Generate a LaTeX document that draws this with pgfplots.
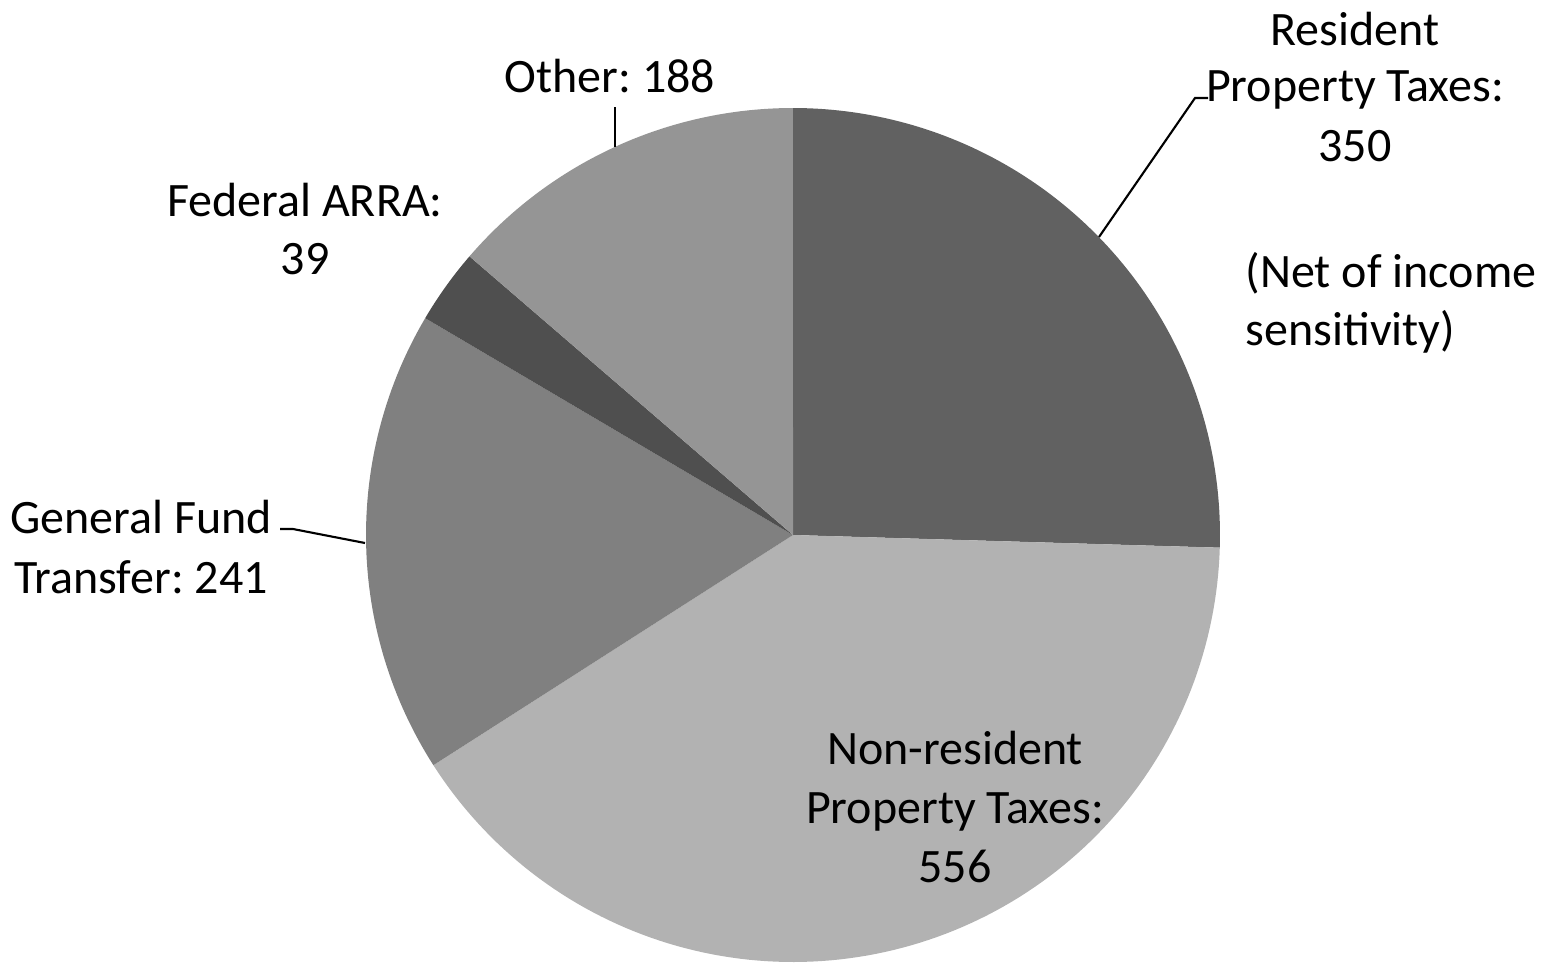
\documentclass[border=0pt]{standalone}
\usepackage{fontspec}
\setmainfont{Carlito}
\usepackage{pgfplots}
\pgfplotsset{compat=1.18}
\frenchspacing

\definecolor{cRes}{HTML}{616161}
\definecolor{cNon}{HTML}{B2B2B2}
\definecolor{cGen}{HTML}{808080}
\definecolor{cFed}{HTML}{4F4F4F}
\definecolor{cOth}{HTML}{959595}

% slice values, clockwise from 12 o'clock
\def\vRes{350}
\def\vNon{556}
\def\vGen{241}
\def\vFed{39}
\def\vOth{188}

\tikzset{lbl/.style={font=\fontsize{13.66pt}{16.8pt}\selectfont, inner sep=0pt}}

\begin{document}
\begin{tikzpicture}
\pgfmathsetmacro\tot{\vRes+\vNon+\vGen+\vFed+\vOth}
\pgfmathsetmacro\aA{90}
\pgfmathsetmacro\aB{\aA-\vRes/\tot*360}
\pgfmathsetmacro\aC{\aB-\vNon/\tot*360}
\pgfmathsetmacro\aD{\aC-\vGen/\tot*360}
\pgfmathsetmacro\aE{\aD-\vFed/\tot*360}
\pgfmathsetmacro\aF{\aE-\vOth/\tot*360}
\begin{axis}[
  scale only axis,
  width=154.7mm, height=96.2mm,
  xmin=0, xmax=1547, ymin=0, ymax=962,
  hide axis,
  clip=false,
]
\addplot[fill=cRes, draw=none, domain=\aB:\aA, samples=90] ({793+427*cos(x)},{427+427*sin(x)}) -- (axis cs:793,427) -- cycle;
\addplot[fill=cNon, draw=none, domain=\aC:\aB, samples=120] ({793+427*cos(x)},{427+427*sin(x)}) -- (axis cs:793,427) -- cycle;
\addplot[fill=cGen, draw=none, domain=\aD:\aC, samples=60] ({793+427*cos(x)},{427+427*sin(x)}) -- (axis cs:793,427) -- cycle;
\addplot[fill=cFed, draw=none, domain=\aE:\aD, samples=20] ({793+427*cos(x)},{427+427*sin(x)}) -- (axis cs:793,427) -- cycle;
\addplot[fill=cOth, draw=none, domain=\aF:\aE, samples=50] ({793+427*cos(x)},{427+427*sin(x)}) -- (axis cs:793,427) -- cycle;

% leader lines
\draw[line width=0.6pt] (axis cs:615,855) -- (axis cs:615,815);
\draw[line width=0.6pt] (axis cs:1099,725) -- (axis cs:1195,864) -- (axis cs:1208,864);
\draw[line width=0.6pt] (axis cs:280,433) -- (axis cs:293,433) -- (axis cs:365,419);

% labels
\node[lbl, anchor=base] at (axis cs:610,869) {Other: 188};
\node[lbl, anchor=base] at (axis cs:1355,916) {Resident};
\node[lbl, anchor=base] at (axis cs:1355,861) {Property Taxes:};
\node[lbl, anchor=base] at (axis cs:1355,801) {350};
\node[lbl, anchor=base west] at (axis cs:1245,675) {(Net of income};
\node[lbl, anchor=base west] at (axis cs:1245,617) {sensitivity)};
\node[lbl, anchor=base] at (axis cs:305,746) {Federal ARRA:};
\node[lbl, anchor=base] at (axis cs:305,688) {39};
\node[lbl, anchor=base] at (axis cs:141,429) {General Fund};
\node[lbl, anchor=base] at (axis cs:141,369) {Transfer: 241};
\node[lbl, anchor=base] at (axis cs:955,198) {Non-resident};
\node[lbl, anchor=base] at (axis cs:955,139) {Property Taxes:};
\node[lbl, anchor=base] at (axis cs:955,80) {556};

\coordinate (bl) at (rel axis cs:0,0);
\coordinate (tr) at (rel axis cs:1,1);
\end{axis}
\pgfresetboundingbox
\path[use as bounding box] (bl) rectangle (tr);
\end{tikzpicture}
\end{document}
